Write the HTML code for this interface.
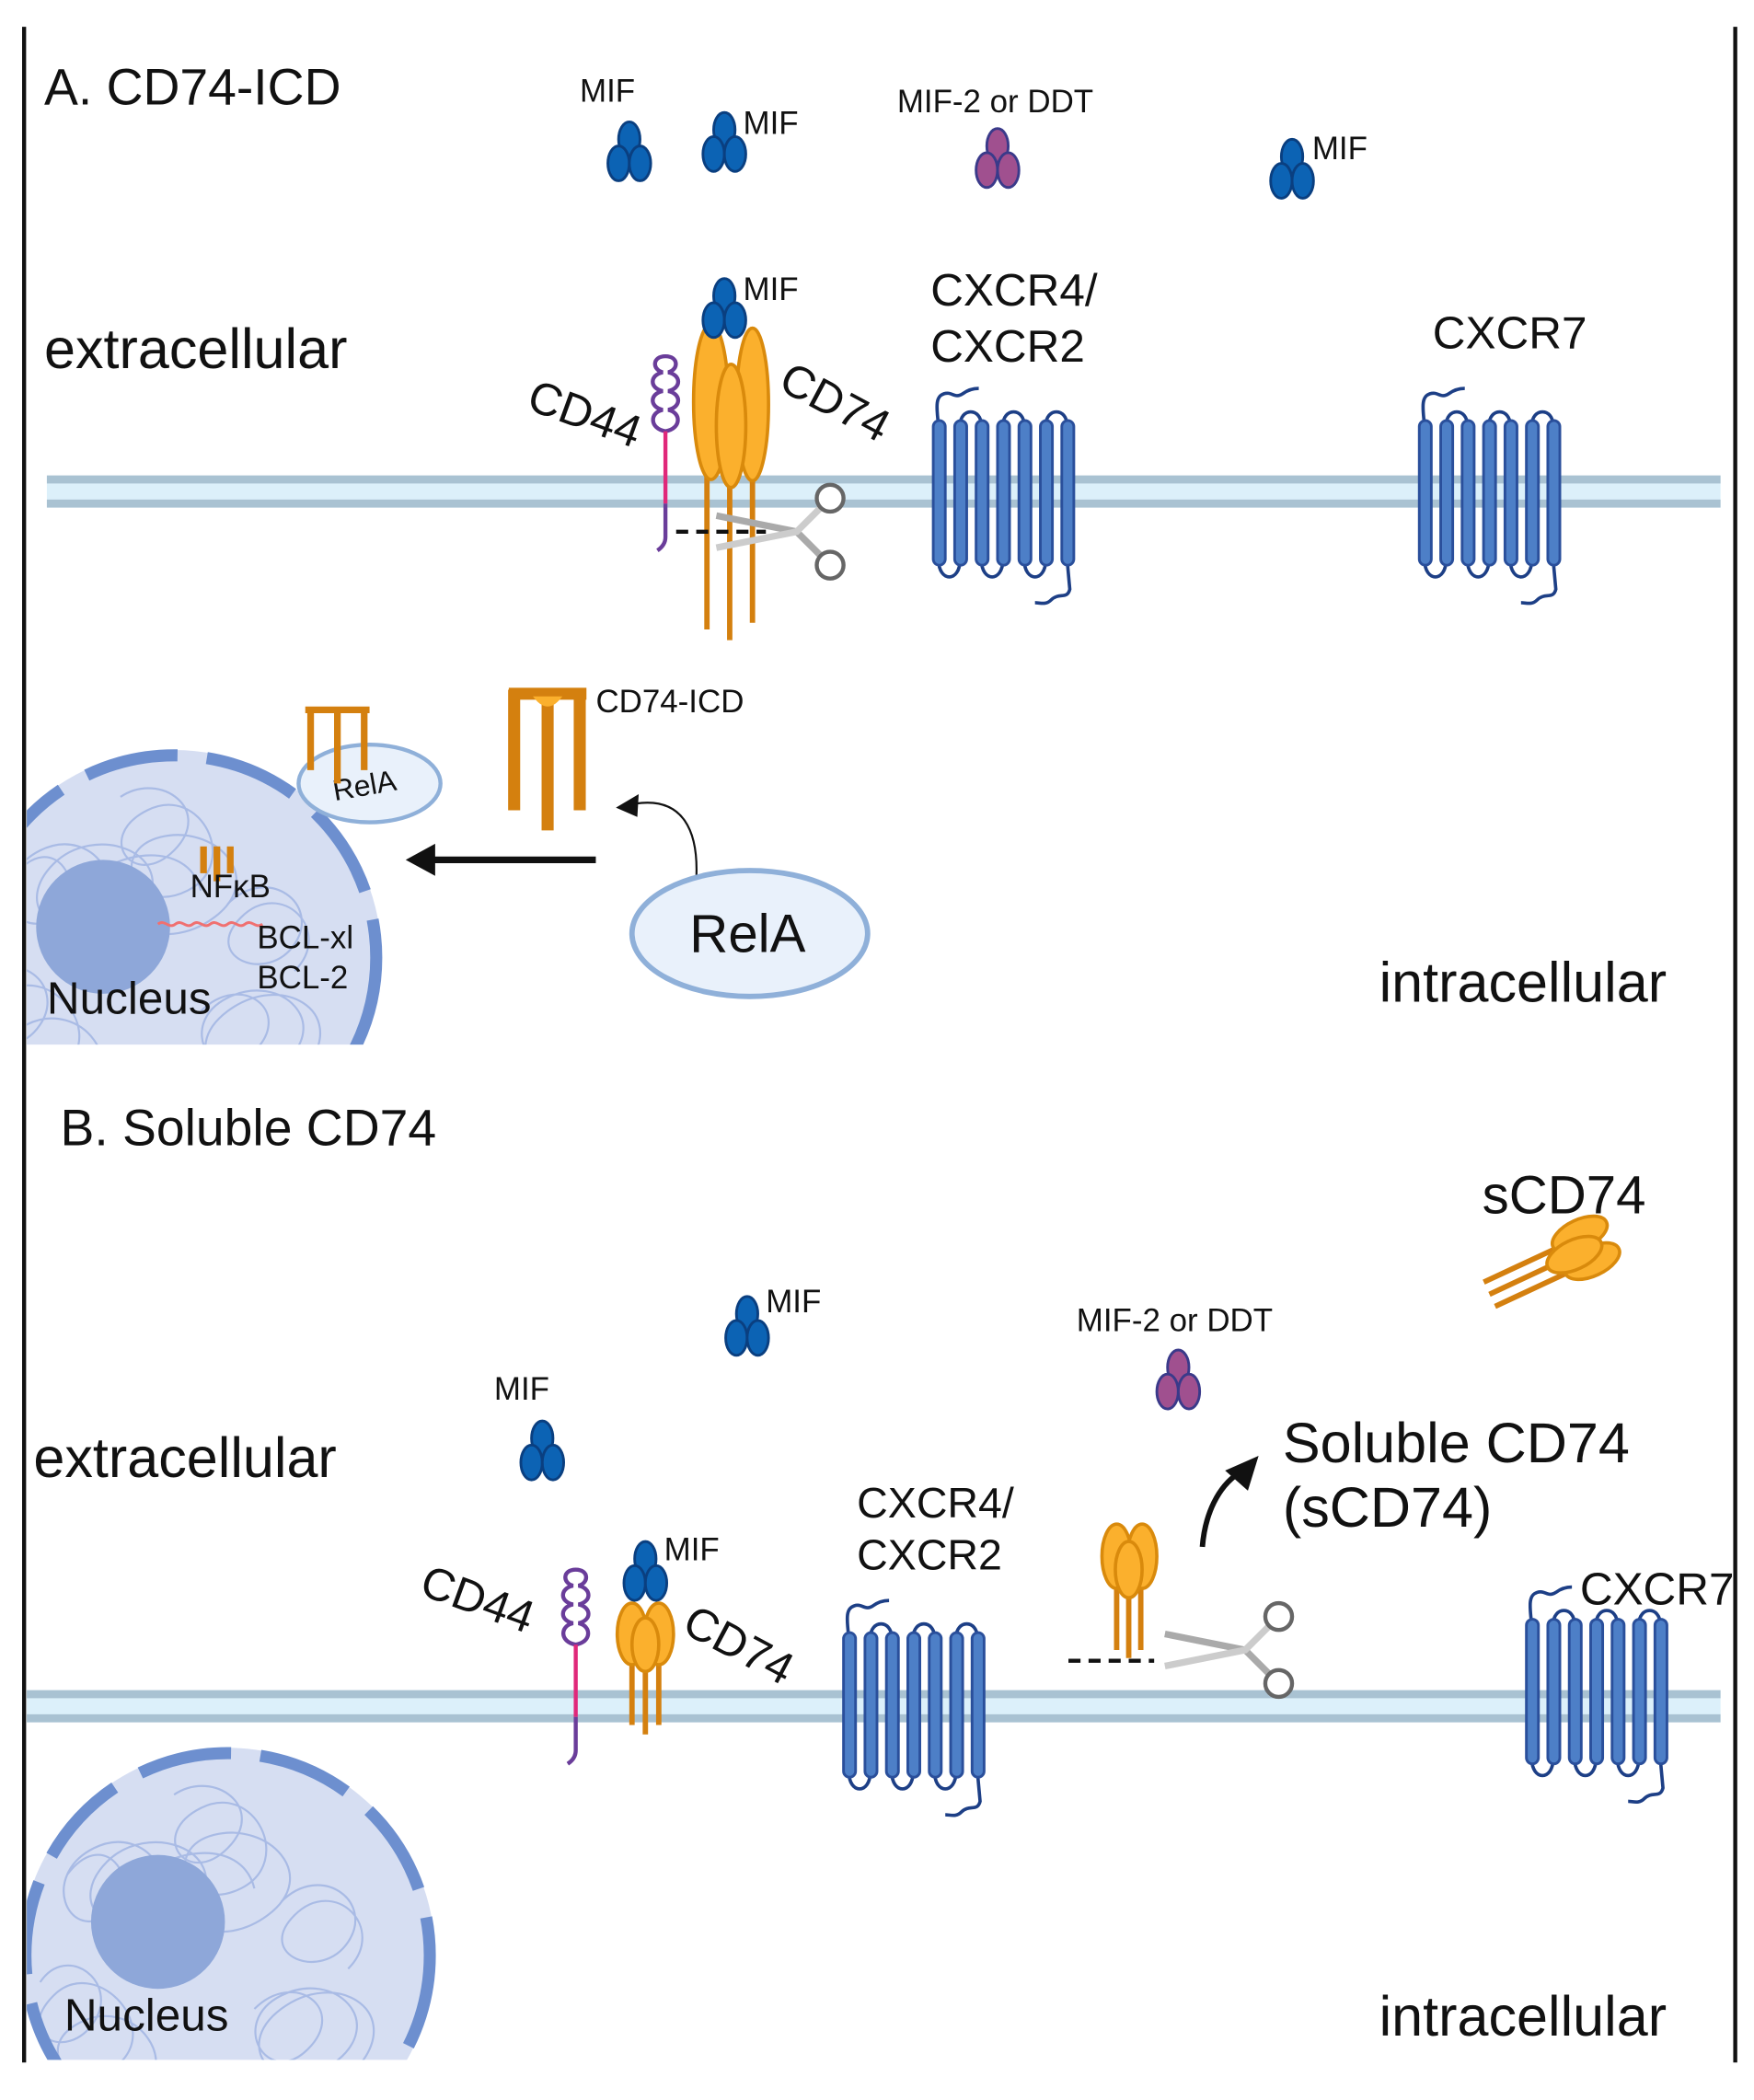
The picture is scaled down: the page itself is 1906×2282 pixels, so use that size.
<!DOCTYPE html>
<html><head><meta charset="utf-8"><style>
html,body{margin:0;padding:0;background:#fff}
svg{display:block}
text{font-family:"Liberation Sans",sans-serif;fill:#111}
</style></head><body>
<svg width="1906" height="2282" viewBox="0 0 1310 1568" preserveAspectRatio="none" xmlns="http://www.w3.org/2000/svg">
<defs>
<g id="mif">
<ellipse cx="0" cy="-11" rx="8" ry="13" fill="#0c63b4" stroke="#0a3f80" stroke-width="2"/>
<ellipse cx="-8" cy="7" rx="8" ry="13" fill="#0c63b4" stroke="#0a3f80" stroke-width="2"/>
<ellipse cx="8" cy="7" rx="8" ry="13" fill="#0c63b4" stroke="#0a3f80" stroke-width="2"/>
</g>
<g id="mif2">
<ellipse cx="0" cy="-11" rx="8" ry="13" fill="#a0508f" stroke="#3a3a8a" stroke-width="2"/>
<ellipse cx="-8" cy="7" rx="8" ry="13" fill="#a0508f" stroke="#3a3a8a" stroke-width="2"/>
<ellipse cx="8" cy="7" rx="8" ry="13" fill="#a0508f" stroke="#3a3a8a" stroke-width="2"/>
</g>
<g id="gpcr" stroke="#1d3f86" stroke-width="2.5" fill="none">
<path d="M4,28 C2,12 2,6 8,4 C14,2 16,8 22,4 C26,1 30,0 34,0"/>
<path d="M20,28 C20,14 36,14 36,28 M52,28 C52,14 68,14 68,28 M84,28 C84,14 100,14 100,28"/>
<path d="M4,128 C4,145 20,145 20,128 M36,128 C36,145 52,145 52,128 M68,128 C68,145 84,145 84,128"/>
<path d="M100,128 L102,150 C100,158 94,152 88,158 C84,162 80,160 76,160"/>
<g fill="#4d7fc7" stroke="#2a4f9b" stroke-width="2">
<rect x="0" y="24" width="9" height="108" rx="4.5"/>
<rect x="16" y="24" width="9" height="108" rx="4.5"/>
<rect x="32" y="24" width="9" height="108" rx="4.5"/>
<rect x="48" y="24" width="9" height="108" rx="4.5"/>
<rect x="64" y="24" width="9" height="108" rx="4.5"/>
<rect x="80" y="24" width="9" height="108" rx="4.5"/>
<rect x="96" y="24" width="9" height="108" rx="4.5"/>
</g>
</g>
<g id="scissors" fill="none">
<path d="M-60,-12 L0,0 L18,18" stroke="#aaa" stroke-width="5"/>
<path d="M-60,12 L0,0 L18,-18" stroke="#ccc" stroke-width="5"/>
<circle cx="25" cy="-25" r="10" fill="#fff" stroke="#666" stroke-width="3"/>
<circle cx="25" cy="25" r="10" fill="#fff" stroke="#666" stroke-width="3"/>
</g>
<g id="cd44" fill="none">
<path d="M0,0 C-10,0 -10,10 -2,12 C-12,14 -12,24 -2,26 C-12,28 -12,38 -2,40 C-12,42 -12,54 0,56 C12,54 12,42 2,40 C12,38 12,28 2,26 C12,24 12,14 2,12 C10,10 10,0 0,0" stroke="#6a3d9a" stroke-width="3"/>
<path d="M0,56 L0,110" stroke="#e0287a" stroke-width="3"/>
<path d="M0,110 L0,135 C0,140 -3,143 -6,145" stroke="#6a3d9a" stroke-width="3"/>
</g>
<g id="nuc">
<circle cx="0" cy="0" r="155" fill="#d6def2"/>
<g fill="none" stroke="#a9bbe5" stroke-width="1.5">
<path d="M-120,-60 c30,-40 60,10 30,30 c-30,20 -50,-30 -10,-50 c40,-20 70,30 40,50 c-30,20 -60,-10 -30,-40 c30,-30 90,-10 70,30 c-20,40 -70,20 -50,-10 c20,-30 80,-40 90,0"/>
<path d="M-40,-120 c30,-20 70,10 40,40 c-30,30 -60,-10 -20,-30 c40,-20 70,40 30,60 c-40,20 -60,-30 -20,-40 c40,-10 80,30 40,60 c-40,30 -90,0 -50,-30"/>
<path d="M-140,20 c20,-30 60,0 40,30 c-20,30 -60,10 -30,-20 c30,-30 80,20 50,50 c-30,30 -70,-10 -30,-30 c40,-20 80,30 40,60"/>
<path d="M20,40 c30,-30 70,0 40,30 c-30,30 -60,-20 -20,-40 c40,-20 80,20 40,50 c-40,30 -80,-10 -40,-40 c40,-30 90,0 60,40"/>
<path d="M40,-40 c30,-30 70,0 50,30 c-20,30 -70,10 -40,-20 c30,-30 70,10 40,40"/>
</g>
<circle cx="0" cy="0" r="151" fill="none" stroke="#6d8fcf" stroke-width="9" stroke-dasharray="70 22"/>
</g>
<clipPath id="cA"><rect x="20" y="500" width="400" height="280"/></clipPath>
<clipPath id="cB"><rect x="20" y="1280" width="400" height="258"/></clipPath>
</defs>

<line x1="18" y1="20" x2="18" y2="1540" stroke="#111" stroke-width="3"/>
<line x1="1296" y1="20" x2="1296" y2="1540" stroke="#111" stroke-width="3"/>

<!-- ===== Panel A ===== -->
<text x="33" y="78" font-size="38">A.  CD74-ICD</text>
<use href="#mif" x="470" y="115"/>
<text x="433" y="76" font-size="24">MIF</text>
<use href="#mif" x="541" y="108"/>
<text x="555" y="100" font-size="24">MIF</text>
<use href="#mif2" x="745" y="120"/>
<text x="670" y="84" font-size="24">MIF-2 or DDT</text>
<use href="#mif" x="965" y="128"/>
<text x="980" y="119" font-size="24">MIF</text>
<text x="33" y="275" font-size="42">extracellular</text>

<rect x="35" y="355" width="1250" height="24" fill="#dcf0fa"/>
<rect x="35" y="355" width="1250" height="6" fill="#a9c2d2"/>
<rect x="35" y="373" width="1250" height="6" fill="#a9c2d2"/>

<use href="#cd44" x="497" y="266"/>
<g stroke="#d4800f" stroke-width="4">
<line x1="528" y1="340" x2="528" y2="470"/><line x1="545" y1="340" x2="545" y2="478"/><line x1="562" y1="340" x2="562" y2="465"/>
</g>
<g fill="#fbb02d" stroke="#d98a0c" stroke-width="2.5">
<ellipse cx="531" cy="300" rx="13" ry="58"/>
<ellipse cx="562" cy="302" rx="12" ry="57"/>
<ellipse cx="546" cy="318" rx="11" ry="46"/>
</g>
<use href="#mif" x="541" y="232"/>
<text x="555" y="224" font-size="24">MIF</text>
<text x="0" y="0" font-size="34" transform="translate(392,305) rotate(20)">CD44</text>
<text x="0" y="0" font-size="34" transform="translate(580,290) rotate(28)">CD74</text>
<line x1="505" y1="397" x2="572" y2="397" stroke="#111" stroke-width="3" stroke-dasharray="9 6"/>
<use href="#scissors" x="595" y="397"/>

<text x="695" y="228" font-size="34">CXCR4/</text>
<text x="695" y="270" font-size="34">CXCR2</text>
<use href="#gpcr" x="697" y="290"/>
<text x="1070" y="260" font-size="34">CXCR7</text>
<use href="#gpcr" x="1060" y="290"/>

<g clip-path="url(#cA)"><use href="#nuc" x="130" y="715"/>
<circle cx="77" cy="692" r="50" fill="#8ea7d9"/>
<path d="M118,690 c5,-4 8,4 13,0 c5,-4 8,4 13,0 c5,-4 8,4 13,0 c5,-4 8,4 13,0 c5,-4 8,4 13,0 c5,-4 8,4 13,0" fill="none" stroke="#f07070" stroke-width="2"/>
</g>
<ellipse cx="276" cy="585" rx="53" ry="29" fill="#e9f1fb" stroke="#8fb0d9" stroke-width="3"/>
<text x="0" y="0" font-size="22" transform="translate(250,598) rotate(-10)">RelA</text>
<g stroke="#d4800f" stroke-width="5" fill="none">
<line x1="232" y1="528" x2="232" y2="575"/><line x1="252" y1="528" x2="252" y2="585"/><line x1="272" y1="528" x2="272" y2="575"/>
<line x1="228" y1="530" x2="276" y2="530"/>
<line x1="152" y1="632" x2="152" y2="652"/><line x1="162" y1="632" x2="162" y2="658"/><line x1="172" y1="632" x2="172" y2="652"/>
</g>
<text x="142" y="670" font-size="24">NFκB</text>
<text x="192" y="708" font-size="24">BCL-xl</text>
<text x="192" y="738" font-size="24">BCL-2</text>
<text x="35" y="757" font-size="34">Nucleus</text>

<g stroke="#d4800f" stroke-width="9" fill="none">
<line x1="384" y1="515" x2="384" y2="605"/><line x1="409" y1="515" x2="409" y2="620"/><line x1="433" y1="515" x2="433" y2="605"/>
<line x1="380" y1="518" x2="438" y2="518"/>
</g>
<path d="M398,520 Q409,535 420,520 z" fill="#fbb02d"/>
<text x="445" y="532" font-size="24">CD74-ICD</text>
<line x1="445" y1="642" x2="320" y2="642" stroke="#111" stroke-width="5"/>
<path d="M303,642 L325,630 L325,654 z" fill="#111"/>
<path d="M520,657 C522,620 510,595 475,600" fill="none" stroke="#111" stroke-width="1.5"/>
<path d="M460,603 L477,593 L476,610 z" fill="#111"/>
<ellipse cx="560" cy="697" rx="88" ry="47" fill="#e9f1fb" stroke="#8fb0d9" stroke-width="4"/>
<text x="515" y="711" font-size="40">RelA</text>
<text x="1030" y="748" font-size="42">intracellular</text>

<!-- ===== Panel B ===== -->
<text x="45" y="855" font-size="38">B.  Soluble CD74</text>
<text x="1107" y="906" font-size="40">sCD74</text>
<g transform="translate(1175,935) rotate(-25)">
<g stroke="#d4800f" stroke-width="4"><line x1="-70" y1="-8" x2="0" y2="-8"/><line x1="-70" y1="2" x2="0" y2="2"/><line x1="-70" y1="12" x2="0" y2="12"/></g>
<g fill="#fbb02d" stroke="#d98a0c" stroke-width="2.5"><ellipse cx="10" cy="-10" rx="22" ry="11"/><ellipse cx="10" cy="12" rx="22" ry="11"/><ellipse cx="0" cy="2" rx="22" ry="11"/></g>
</g>
<use href="#mif" x="558" y="992"/>
<text x="572" y="980" font-size="24">MIF</text>
<use href="#mif" x="405" y="1085"/>
<text x="369" y="1045" font-size="24">MIF</text>
<use href="#mif2" x="880" y="1032"/>
<text x="804" y="994" font-size="24">MIF-2 or DDT</text>
<text x="25" y="1103" font-size="42">extracellular</text>
<text x="958" y="1092" font-size="42">Soluble CD74</text>
<text x="958" y="1140" font-size="42">(sCD74)</text>
<path d="M898,1155 C900,1130 910,1110 925,1100" fill="none" stroke="#111" stroke-width="4"/>
<path d="M940,1087 L932,1113 L915,1098 z" fill="#111"/>
<text x="640" y="1133" font-size="32">CXCR4/</text>
<text x="640" y="1172" font-size="32">CXCR2</text>

<rect x="20" y="1262" width="1265" height="24" fill="#dcf0fa"/>
<rect x="20" y="1262" width="1265" height="6" fill="#a9c2d2"/>
<rect x="20" y="1280" width="1265" height="6" fill="#a9c2d2"/>

<use href="#cd44" x="430" y="1172"/>
<g stroke="#d4800f" stroke-width="4"><line x1="472" y1="1230" x2="472" y2="1288"/><line x1="482" y1="1230" x2="482" y2="1295"/><line x1="492" y1="1230" x2="492" y2="1288"/></g>
<g fill="#fbb02d" stroke="#d98a0c" stroke-width="2.5"><ellipse cx="472" cy="1220" rx="11" ry="23"/><ellipse cx="492" cy="1220" rx="11" ry="23"/><ellipse cx="482" cy="1228" rx="10" ry="20"/></g>
<use href="#mif" x="482" y="1175"/>
<text x="496" y="1165" font-size="24">MIF</text>
<text x="0" y="0" font-size="34" transform="translate(312,1190) rotate(20)">CD44</text>
<text x="0" y="0" font-size="34" transform="translate(508,1218) rotate(28)">CD74</text>

<g stroke="#d4800f" stroke-width="4"><line x1="834" y1="1180" x2="834" y2="1232"/><line x1="843" y1="1180" x2="843" y2="1238"/><line x1="852" y1="1180" x2="852" y2="1232"/></g>
<g fill="#fbb02d" stroke="#d98a0c" stroke-width="2.5"><ellipse cx="834" cy="1162" rx="11" ry="24"/><ellipse cx="853" cy="1162" rx="11" ry="24"/><ellipse cx="843" cy="1172" rx="10" ry="21"/></g>
<line x1="798" y1="1240" x2="862" y2="1240" stroke="#111" stroke-width="3" stroke-dasharray="9 6"/>
<use href="#scissors" x="930" y="1232"/>

<use href="#gpcr" x="630" y="1195"/>
<use href="#gpcr" x="1140" y="1185"/>
<text x="1180" y="1198" font-size="34">CXCR7</text>

<g clip-path="url(#cB)"><use href="#nuc" x="170" y="1460"/>
<circle cx="118" cy="1435" r="50" fill="#8ea7d9"/></g>
<text x="48" y="1516" font-size="34">Nucleus</text>
<text x="1030" y="1520" font-size="42">intracellular</text>
</svg>
</body></html>
